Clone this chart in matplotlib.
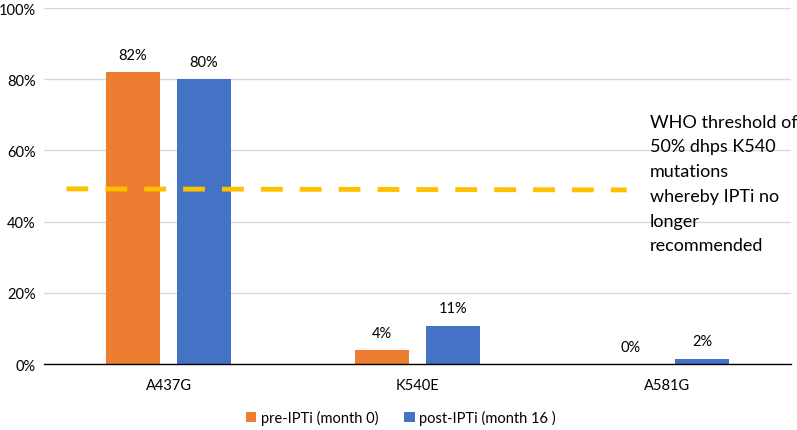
import matplotlib
matplotlib.use("Agg")
import matplotlib.pyplot as plt
import numpy as np

plt.rcParams['font.family'] = ['Lato', 'DejaVu Sans']

categories = ["A437G", "K540E", "A581G"]
pre_ipti = [82, 3.9, 0]
post_ipti = [80, 10.8, 1.5]
pre_labels = ["82%", "4%", "0%"]
post_labels = ["80%", "11%", "2%"]
series_names = ["pre-IPTi (month 0)", "post-IPTi (month 16 )"]
threshold_x = [-0.41, 1.84]
threshold_y = [49.2, 48.9]
annotation = "WHO threshold of\n50% dhps K540\nmutations\nwhereby IPTi no\nlonger\nrecommended"
yticks = [0, 20, 40, 60, 80, 100]
ytick_labels = ["0%", "20%", "40%", "60%", "80%", "100%"]

orange = "#ED7D31"
blue = "#4472C4"

fig = plt.figure(figsize=(7.97, 4.31), dpi=100)
ax = fig.add_axes([0.0552, 0.1531, 0.9373, 0.826])

x = np.arange(len(categories))
w = 0.22
off = 0.1425
b1 = ax.bar(x - off, pre_ipti, w, color=orange, label=series_names[0], zorder=3)
b2 = ax.bar(x + off, post_ipti, w, color=blue, label=series_names[1], zorder=3)

for rect, lab in zip(b1, pre_labels):
    ax.annotate(lab, (rect.get_x() + rect.get_width() / 2, rect.get_height()),
                xytext=(0, 12.5), textcoords="offset points", ha="center", va="center",
                fontsize=10.5, color="#000000")
for rect, lab in zip(b2, post_labels):
    ax.annotate(lab, (rect.get_x() + rect.get_width() / 2, rect.get_height()),
                xytext=(0, 12.5), textcoords="offset points", ha="center", va="center",
                fontsize=10.5, color="#000000")

ax.plot(threshold_x, threshold_y, color="#FFC000", lw=3.5, dashes=(4.5, 3.5), zorder=4,
        solid_capstyle="butt", dash_capstyle="butt")

ax.text(1.934, 50.7, annotation, ha="left", va="center", fontsize=13, linespacing=1.67,
        color="#000000", transform=ax.transData)

ax.set_xlim(-0.5, 2.5)
ax.set_ylim(0, 100)
ax.set_yticks(yticks)
ax.set_yticklabels(ytick_labels, fontsize=10.5, color="#000000")
ax.set_xticks(x)
ax.set_xticklabels(categories, fontsize=10.5, color="#000000")
ax.tick_params(axis="both", length=0)
ax.tick_params(axis="x", pad=10)
ax.tick_params(axis="y", pad=6)
ax.yaxis.grid(True, color="#D9D9D9", lw=1)
ax.set_axisbelow(True)
for s in ["left", "right", "top"]:
    ax.spines[s].set_visible(False)
ax.spines["bottom"].set_color("#000000")
ax.spines["bottom"].set_linewidth(1)
ax.spines["bottom"].set_zorder(5)

fig.legend(loc="center", bbox_to_anchor=(0.503, 0.028), ncol=2, frameon=False,
           fontsize=10.5, handlelength=0.7, handleheight=0.7, handletextpad=0.3,
           columnspacing=1.8)

fig.savefig("out.png", dpi=100)
